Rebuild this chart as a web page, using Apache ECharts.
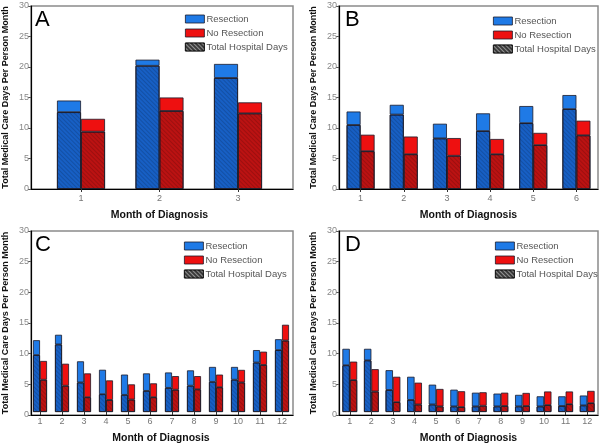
<!DOCTYPE html>
<html><head><meta charset="utf-8">
<script src="https://cdn.jsdelivr.net/npm/echarts@6/dist/echarts.min.js"></script>
<style>html,body{margin:0;padding:0;background:#fff}#c{width:601px;height:445px}</style>
</head><body><div id="c"></div>
<script>
// ---- data ----
const monthsA = ['1','2','3'];
const resTotalA = [14.5, 21.2, 20.5];
const resHospA  = [12.6, 20.2, 18.2];
const noTotalA  = [11.5, 15.0, 14.2];
const noHospA   = [9.4, 12.8, 12.4];

const monthsB = ['1','2','3','4','5','6'];
const resTotalB = [12.7, 13.8, 10.7, 12.4, 13.6, 15.4];
const resHospB  = [10.5, 12.2, 8.3, 9.5, 10.8, 13.1];
const noTotalB  = [8.9, 8.6, 8.35, 8.2, 9.2, 11.2];
const noHospB   = [6.2, 5.7, 5.45, 5.7, 7.2, 8.8];

const monthsC = ['1','2','3','4','5','6','7','8','9','10','11','12'];
const resTotalC = [11.9, 12.8, 8.4, 7.0, 6.2, 6.4, 6.55, 6.9, 7.47, 7.47, 10.26, 12.06];
const resHospC  = [9.44, 11.2, 4.9, 2.95, 2.84, 3.5, 4.0, 4.36, 5.0, 5.35, 8.2, 10.26];
const noTotalC  = [8.46, 8.0, 6.4, 5.24, 4.58, 4.75, 5.95, 5.95, 6.2, 6.98, 10.0, 14.46];
const noHospC   = [5.35, 4.36, 2.45, 2.0, 2.07, 2.45, 3.7, 3.76, 4.1, 4.9, 7.8, 11.84];

const monthsD = ['1','2','3','4','5','6','7','8','9','10','11','12'];
const resTotalD = [10.47, 10.47, 6.93, 5.84, 4.53, 3.7, 3.2, 3.05, 2.84, 2.6, 2.6, 2.73];
const resHospD  = [7.75, 8.56, 3.65, 2.0, 1.25, 0.93, 0.93, 0.93, 0.93, 0.93, 1.0, 1.1];
const noTotalD  = [8.35, 7.1, 5.84, 4.86, 3.82, 3.44, 3.27, 3.2, 3.16, 3.4, 3.4, 3.5];
const noHospD   = [5.3, 3.4, 1.64, 1.25, 0.93, 0.82, 1.04, 1.0, 1.0, 1.15, 1.3, 1.47];

const yTicks = [0, 5, 10, 15, 20, 25, 30];
const legendNames = ['Resection', 'No Resection', 'Total Hospital Days'];
const panelLetters = ['A', 'B', 'C', 'D'];
const yName = 'Total Medical Care Days Per Person Month';
const xName = 'Month of Diagnosis';

// ---- layout ----
const FONT = 'Liberation Sans, Arial, sans-serif';
const BLUE = '#1f7ae6', BLUE_D = '#175fc4';
const RED = '#ee1010', RED_D = '#bb1212';
const hatch = {symbol:'rect', symbolSize:1, dashArrayX:[1,0], dashArrayY:[1,2], rotation:Math.PI/4, color:'rgba(0,0,0,0.16)'};

const panels = [
  {cats:monthsA, rt:resTotalA, rh:resHospA, nt:noTotalA, nh:noHospA,
   frame:{left:29, top:6, width:264, height:183}, bar:{left:41.75, width:235.5}, bw:24,
   legend:{left:180, top:8}, letter:{left:35, top:9}},
  {cats:monthsB, rt:resTotalB, rh:resHospB, nt:noTotalB, nh:noHospB,
   frame:{left:339, top:6, width:259, height:183}, bar:{left:339, width:259}, bw:14,
   legend:{left:488, top:10}, letter:{left:345, top:9}},
  {cats:monthsC, rt:resTotalC, rh:resHospC, nt:noTotalC, nh:noHospC,
   frame:{left:29, top:231, width:264, height:184}, bar:{left:29, width:264}, bw:7,
   legend:{left:179, top:235}, letter:{left:35, top:234}},
  {cats:monthsD, rt:resTotalD, rh:resHospD, nt:noTotalD, nh:noHospD,
   frame:{left:339, top:231, width:259, height:184}, bar:{left:339, width:259}, bw:7.4,
   legend:{left:490, top:235}, letter:{left:345, top:234}}
];

const grid = [], xAxis = [], yAxis = [], series = [], legend = [], title = [];
panels.forEach((p, i) => {
  const fg = 2*i, bg = 2*i+1;
  grid.push({left:p.frame.left, top:p.frame.top, width:p.frame.width, height:p.frame.height,
    show:true, borderColor:'#8a8a8a', borderWidth:1.5, backgroundColor:'transparent'});
  grid.push({left:p.bar.left, top:p.frame.top, width:p.bar.width, height:p.frame.height});
  xAxis.push({gridIndex:fg, type:'value', min:0, max:1, axisLine:{show:true, onZero:false, lineStyle:{color:'#000', width:1.2}},
    axisTick:{show:false}, axisLabel:{show:false}, splitLine:{show:false}});
  xAxis.push({gridIndex:bg, type:'category', data:p.cats, axisLine:{show:false},
    axisTick:{show:true, alignWithLabel:true, length:3, lineStyle:{color:'#333'}},
    axisLabel:{color:'#777', fontSize:9, fontFamily:FONT, margin:5},
    name:xName, nameLocation:'middle', nameGap:21,
    nameTextStyle:{fontFamily:FONT, fontWeight:'bold', fontSize:10.5, color:'#111'}});
  yAxis.push({gridIndex:fg, type:'value', min:yTicks[0], max:yTicks[yTicks.length-1], interval:yTicks[1]-yTicks[0],
    axisLine:{show:true, lineStyle:{color:'#000', width:1.2}},
    axisTick:{show:true, length:3, lineStyle:{color:'#555'}},
    axisLabel:{color:'#888', fontSize:9, fontFamily:FONT, margin:2},
    splitLine:{show:false},
    name:yName, nameLocation:'middle', nameGap:21,
    nameTextStyle:{fontFamily:FONT, fontWeight:'bold', fontSize:9, color:'#111'}});
  yAxis.push({gridIndex:bg, type:'value', min:yTicks[0], max:yTicks[yTicks.length-1], show:false});
  const border = {borderColor:'#1a1a2a', borderWidth:0.8};
  const common = {type:'bar', xAxisIndex:bg, yAxisIndex:bg, barWidth:p.bw, barGap:'0%', animation:false};
  series.push(Object.assign({}, common, {name:'Total Hospital Days', stack:'r'+i, data:p.rh,
    itemStyle:Object.assign({color:BLUE_D, decal:hatch}, border)}));
  series.push(Object.assign({}, common, {name:'Resection', stack:'r'+i, data:p.rt.map((v,k)=>+(v-p.rh[k]).toFixed(2)),
    itemStyle:Object.assign({color:BLUE}, border)}));
  series.push(Object.assign({}, common, {name:'Total Hospital Days', stack:'n'+i, data:p.nh,
    itemStyle:Object.assign({color:RED_D, decal:hatch}, border)}));
  series.push(Object.assign({}, common, {name:'No Resection', stack:'n'+i, data:p.nt.map((v,k)=>+(v-p.nh[k]).toFixed(2)),
    itemStyle:Object.assign({color:RED}, border)}));
  legend.push({orient:'vertical', left:p.legend.left, top:p.legend.top, itemWidth:19, itemHeight:8, itemGap:2,
    icon:'rect', selectedMode:false,
    textStyle:{fontFamily:FONT, fontSize:9.5, color:'#555', lineHeight:12, padding:[0,0,0,-3]},
    data:[
      {name:legendNames[0], itemStyle:{color:BLUE, borderColor:'#1a1a2a', borderWidth:0.8}},
      {name:legendNames[1], itemStyle:{color:RED, borderColor:'#1a1a2a', borderWidth:0.8}},
      {name:legendNames[2], itemStyle:{color:'#3a3a3a', borderColor:'#111', borderWidth:0.8,
        decal:{symbol:'rect', symbolSize:1, dashArrayX:[1,0], dashArrayY:[1,2], rotation:Math.PI/4, color:'rgba(255,255,255,0.45)'}}}
    ]});
  title.push({text:panelLetters[i], left:p.letter.left, top:p.letter.top, padding:0,
    textStyle:{fontFamily:FONT, fontSize:22, fontWeight:'normal', color:'#000'}});
});

const chart = echarts.init(document.getElementById('c'), null, {renderer:'canvas'});
chart.setOption({animation:false, backgroundColor:'#fff', title, grid, xAxis, yAxis, legend, series});
</script></body></html>
